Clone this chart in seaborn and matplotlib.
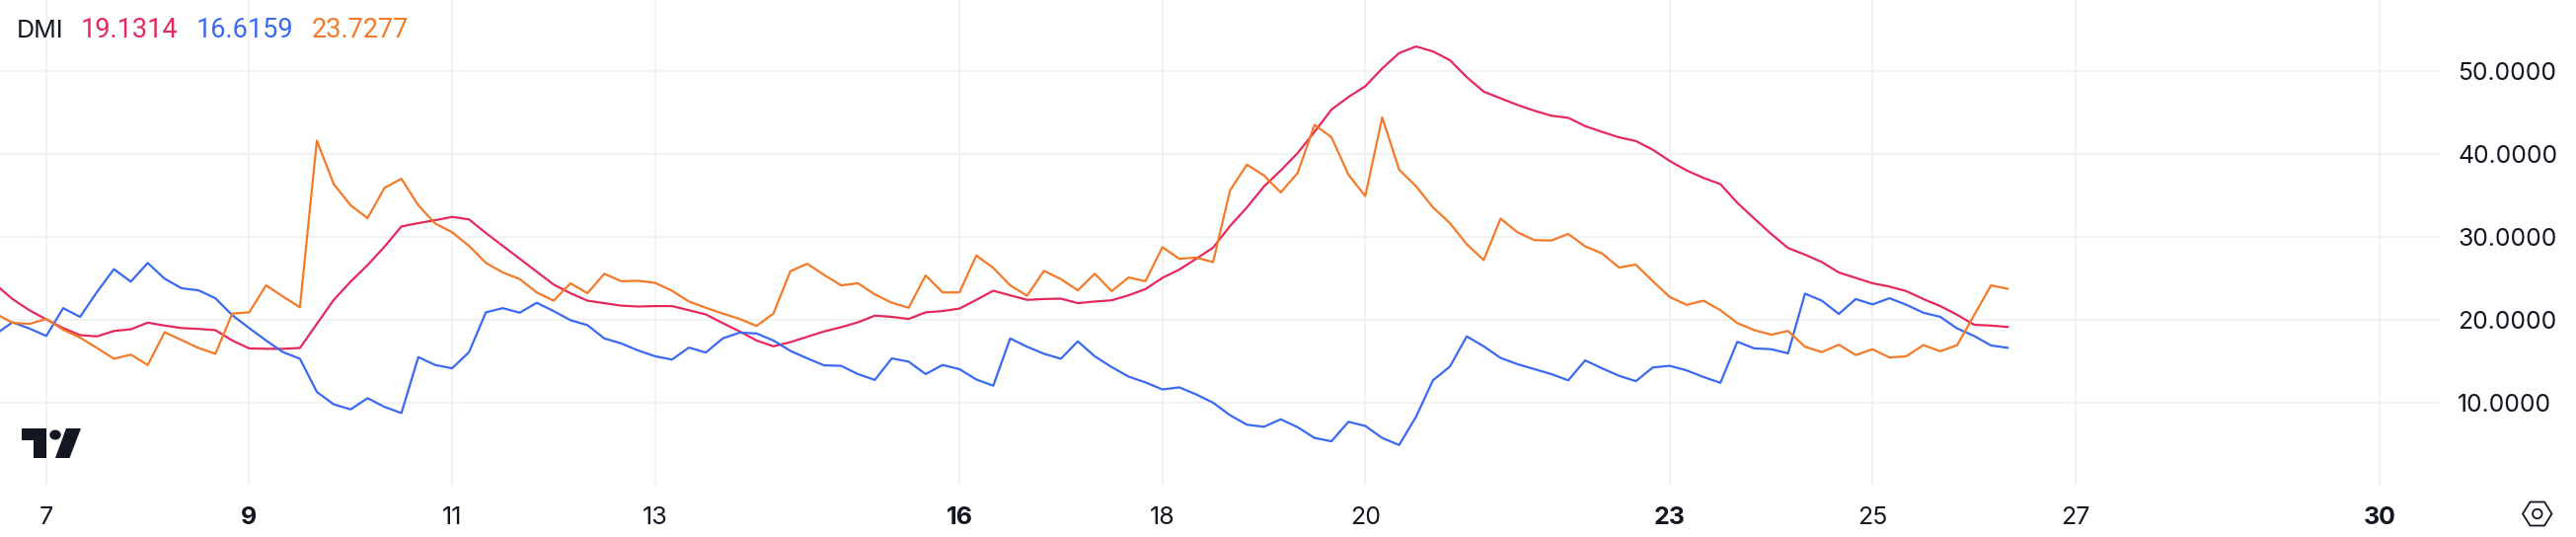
import matplotlib
matplotlib.use('Agg')
import matplotlib.pyplot as plt
from matplotlib.patches import Polygon, Ellipse
import seaborn as sns
import pandas as pd
import numpy as np

# 4h bars, six per day, first one just left of the day 7 tick
bar_index = np.arange(-3, 117)

adx = [24.25, 22.5, 21.15, 20.05, 19.0, 18.15, 18.0, 18.65, 18.85, 19.65, 19.3, 19.0, 18.9, 18.75, 17.5,
       16.55, 16.5, 16.5, 16.6, 19.5, 22.4, 24.6, 26.6, 28.8, 31.25, 31.65, 32.0, 32.4, 32.1, 30.45,
       28.9, 27.35, 25.8, 24.25, 23.2, 22.3, 22.0, 21.7, 21.6, 21.65, 21.65, 21.15, 20.65, 19.6, 18.6,
       17.5, 16.8, 17.3, 17.95, 18.6, 19.1, 19.7, 20.5, 20.35, 20.1, 20.9, 21.05, 21.35, 22.4, 23.5,
       22.95, 22.4, 22.5, 22.55, 22.0, 22.2, 22.35, 22.95, 23.7, 25.05, 26.05, 27.35, 28.7, 31.3, 33.55,
       36.05, 38.0, 40.1, 42.65, 45.35, 46.85, 48.15, 50.3, 52.15, 52.95, 52.35, 51.3, 49.25, 47.5, 46.7,
       45.9, 45.2, 44.6, 44.35, 43.35, 42.65, 42.0, 41.55, 40.5, 39.15, 38.0, 37.1, 36.35, 34.1, 32.2,
       30.35, 28.65, 27.85, 26.95, 25.7, 25.05, 24.4, 24.0, 23.45, 22.5, 21.65, 20.6, 19.4, 19.3, 19.1314]

di_plus = [18.25, 19.7, 18.95, 18.05, 21.4, 20.35, 23.35, 26.1, 24.6, 26.85, 24.95, 23.8, 23.55, 22.6, 20.55,
           19.0, 17.5, 16.1, 15.3, 11.3, 9.8, 9.2, 10.55, 9.5, 8.75, 15.5, 14.55, 14.15, 16.1, 20.9,
           21.4, 20.85, 22.05, 21.05, 19.95, 19.35, 17.75, 17.15, 16.3, 15.6, 15.2, 16.65, 16.05, 17.75, 18.45,
           18.35, 17.5, 16.25, 15.35, 14.5, 14.45, 13.45, 12.75, 15.35, 14.95, 13.45, 14.55, 14.05, 12.8, 12.05,
           17.75, 16.75, 15.9, 15.3, 17.4, 15.6, 14.3, 13.15, 12.45, 11.6, 11.85, 11.0, 10.0, 8.5, 7.35,
           7.1, 8.0, 7.05, 5.75, 5.35, 7.7, 7.2, 5.75, 4.9, 8.3, 12.7, 14.35, 18.0, 16.8, 15.4,
           14.65, 14.05, 13.45, 12.7, 15.1, 14.15, 13.25, 12.6, 14.25, 14.45, 13.9, 13.1, 12.4, 17.35, 16.55,
           16.45, 15.95, 23.15, 22.3, 20.7, 22.5, 21.85, 22.6, 21.8, 20.85, 20.35, 18.95, 18.05, 16.9, 16.6159]

di_minus = [20.74, 19.63, 19.5, 20.1, 18.8, 17.85, 16.6, 15.3, 15.8, 14.55, 18.5, 17.55, 16.6, 15.9, 20.75,
            20.9, 24.15, 22.8, 21.5, 41.6, 36.35, 33.8, 32.25, 35.9, 37.0, 33.8, 31.6, 30.55, 28.9, 26.85,
            25.7, 24.9, 23.3, 22.3, 24.4, 23.2, 25.55, 24.65, 24.7, 24.45, 23.5, 22.2, 21.45, 20.75, 20.1,
            19.25, 20.75, 25.85, 26.75, 25.4, 24.15, 24.4, 23.05, 22.05, 21.45, 25.35, 23.3, 23.3, 27.75, 26.25,
            24.15, 22.9, 25.9, 24.9, 23.55, 25.55, 23.45, 25.1, 24.65, 28.75, 27.35, 27.5, 26.95, 35.6, 38.7,
            37.4, 35.35, 37.7, 43.5, 42.0, 37.5, 34.9, 44.4, 38.1, 36.1, 33.55, 31.65, 29.1, 27.2, 32.2,
            30.55, 29.6, 29.55, 30.35, 28.85, 28.0, 26.3, 26.65, 24.65, 22.75, 21.8, 22.3, 21.15, 19.6, 18.75,
            18.2, 18.65, 16.75, 16.1, 17.0, 15.75, 16.45, 15.45, 15.6, 16.95, 16.2, 16.95, 20.55, 24.15, 23.7277]

x_ticks = [7, 9, 11, 13, 16, 18, 20, 23, 25, 27, 30]
bold_ticks = [9, 16, 23, 30]
y_ticks = [10, 20, 30, 40, 50]
legend_values = ['19.1314', '16.6159', '23.7277']

colors = {'ADX': '#e5295c', '+DI': '#3a69f2', '-DI': '#f57a28'}
text_color = '#131722'
grid_color = '#f2f2f2'
W, H = 2610, 544

sns.set_theme(style='white')
plt.rcParams['font.family'] = ['Inter', 'DejaVu Sans']

df = pd.DataFrame({'day': 7 + bar_index / 6, 'ADX': adx, '+DI': di_plus, '-DI': di_minus})
long_df = df.melt(id_vars='day', var_name='line', value_name='value')

fig = plt.figure(figsize=(W / 100, H / 100), dpi=100)
ax = fig.add_axes([0, 52 / H, 2472 / W, 492 / H])

sns.lineplot(ax=ax, data=long_df, x='day', y='value', hue='line', palette=colors,
             hue_order=['ADX', '+DI', '-DI'], linewidth=1.6, errorbar=None, legend=False, zorder=3)

ax.set_xlim(6.544, 30.59)
ax.set_ylim(0, 58.55)
ax.set_xlabel('')
ax.set_ylabel('')
ax.set_xticks(x_ticks)
ax.set_yticks(y_ticks)
ax.set_yticklabels([f'{v:.4f}' for v in y_ticks])
ax.set_xticklabels([str(t) for t in x_ticks])
ax.yaxis.tick_right()
ax.tick_params(axis='x', length=0, pad=15, labelsize=18, labelcolor=text_color)
ax.tick_params(axis='y', length=0, pad=13, labelsize=17.8, labelcolor=text_color)
for lab, t in zip(ax.get_xticklabels(), x_ticks):
    if t in bold_ticks:
        lab.set_fontweight('bold')
ax.grid(True, color=grid_color, linewidth=1.5, zorder=0)
ax.set_axisbelow(True)
sns.despine(ax=ax, left=True, right=True, top=True, bottom=True)

# header
def px(x, y):
    return x / W, 1 - y / H

fx, fy = px(17, 31)
fig.text(fx, fy, 'DMI', color=text_color, fontsize=18, va='center', ha='left')
value_pos = [(legend_values[0], 82, colors['ADX']), (legend_values[1], 199, colors['+DI']),
             (legend_values[2], 315.5, colors['-DI'])]
for label, x0, c in value_pos:
    fx, fy = px(x0, 31)
    # Roboto digits are all one width, the 1s in Inter come out too narrow
    fig.text(fx, fy, label, color=c, fontsize=19.5, family='Roboto', va='center', ha='left')

# TradingView logo and settings icon
logo_t = [(22, 434), (47, 434), (47, 464), (34, 464), (34, 446), (22, 446)]
logo_s = [(67, 434), (82, 434), (70.5, 464), (56, 464)]
for pts in (logo_t, logo_s):
    fig.add_artist(Polygon([px(*p) for p in pts], closed=True, transform=fig.transFigure,
                           facecolor=text_color, edgecolor='none'))
cx, cy = px(56, 440.5)
fig.add_artist(Ellipse((cx, cy), 11.5 / W, 10 / H, transform=fig.transFigure, facecolor=text_color, edgecolor='none'))

hexagon = [(2556, 520.5), (2563.5, 508.5), (2578, 508.5), (2585.5, 520.5), (2578, 532.5), (2563.5, 532.5)]
fig.add_artist(Polygon([px(*p) for p in hexagon], closed=True, transform=fig.transFigure,
                       facecolor='none', edgecolor=text_color, linewidth=1.3))
cx, cy = px(2570.8, 520.5)
fig.add_artist(Ellipse((cx, cy), 9.5 / W, 9.5 / H, transform=fig.transFigure, facecolor='none',
                       edgecolor=text_color, linewidth=1.3))

fig.savefig('out.png', dpi=100, facecolor='white')
